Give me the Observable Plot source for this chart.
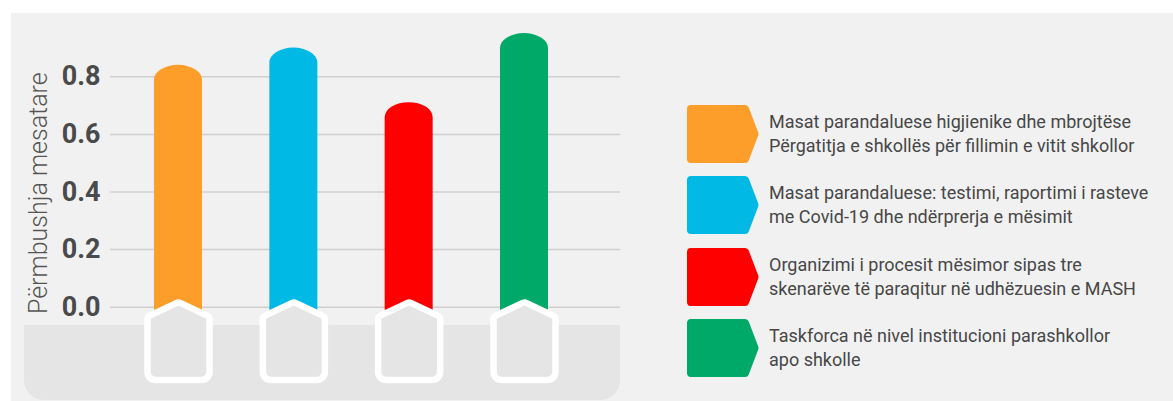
<!DOCTYPE html>
<html>
<head>
<meta charset="utf-8">
<script src="https://cdn.jsdelivr.net/npm/d3@7"></script>
<script src="https://cdn.jsdelivr.net/npm/@observablehq/plot@0.6"></script>
<style>
  html, body { margin: 0; padding: 0; background: #ffffff; }
  #wrap { position: relative; width: 1173px; height: 401px; overflow: hidden; font-family: Roboto, "Noto Sans", sans-serif; }
  #panel { position: absolute; left: 11px; top: 13px; right: 0; bottom: 0; background: #f1f1f1; }
  #band { position: absolute; left: 24px; top: 325px; width: 596px; height: 75px; background: #e5e5e5; border-radius: 0 0 20px 20px; }
  #chart { position: absolute; left: 0; top: 0; }
  #legend { position: absolute; left: 687px; top: 105px; }
  .row { display: flex; align-items: center; height: 58px; margin-bottom: 13.3px; }
  .row svg { flex: none; }
  .row .lbl { margin-left: 10px; font-size: 18px; line-height: 24px; color: #474747; white-space: pre-line; }
</style>
</head>
<body>
<div id="wrap">
  <div id="panel"></div>
  <div id="band"></div>
  <div id="chart"></div>
  <div id="legend"></div>
</div>
<script>
const categories = [
  "Masat parandaluese higjienike dhe mbrojtëse\nPërgatitja e shkollës për fillimin e vitit shkollor",
  "Masat parandaluese: testimi, raportimi i rasteve\nme Covid-19 dhe ndërprerja e mësimit",
  "Organizimi i procesit mësimor sipas tre\nskenarëve të paraqitur në udhëzuesin e MASH",
  "Taskforca në nivel institucioni parashkollor\napo shkolle"
];
const values = [0.84, 0.90, 0.71, 0.95];
const colors = ["#fd9e2a", "#00b9e4", "#ff0000", "#00a968"];
const yTicks = [0, 0.2, 0.4, 0.6, 0.8];
const yLabel = "Përmbushja mesatare";

const rows = categories.map((c, i) => ({category: c, value: values[i], base: 0}));

// house-shaped base marker
const house = {
  draw(ctx) {
    ctx.moveTo(0, 72.8);
    ctx.arcTo(-31, 72.8, -31, 9.5, 8);
    ctx.arcTo(-31, 9.5, 0, -5.2, 4);
    ctx.arcTo(0, -5.2, 31, 9.5, 4);
    ctx.arcTo(31, 9.5, 31, 72.8, 4);
    ctx.arcTo(31, 72.8, 0, 72.8, 8);
    ctx.closePath();
  }
};

const pi = 1 - 48 / 115.333;

const chart = Plot.plot({
  width: 640,
  height: 401,
  marginLeft: 110,
  marginRight: 20,
  marginTop: 18.7,
  marginBottom: 94.3,
  style: {background: "transparent", overflow: "visible"},
  x: {domain: categories, range: [120.33, 581.67], paddingInner: pi, paddingOuter: pi / 2, round: false, axis: null},
  y: {domain: [0, 1], axis: null},
  color: {domain: categories, range: colors},
  marks: [
    Plot.gridY(yTicks, {stroke: "#cfcfcf", strokeOpacity: 1, strokeWidth: 1.5}),
    Plot.axisY(yTicks, {
      tickSize: 0, tickPadding: 10, tickFormat: d3.format(".1f"),
      fontSize: 27, fontWeight: "bold", fill: "#4a4a4a", label: null,
      fontFamily: "Roboto, sans-serif"
    }),
    Plot.text([yLabel], {
      frameAnchor: "left", rotate: -90, dx: -72, dy: 30,
      fontSize: 25, fontWeight: 300, fill: "#555555", textAnchor: "middle",
      fontFamily: "Roboto, sans-serif"
    }),
    // bar with rounded top; its rounded bottom tucks under the house marker
    Plot.barY(rows, {x: "category", y1: d => d.base - 0.06, y2: "value", fill: "category", rx: 24, ry: 15}),
    Plot.dot(rows, {x: "category", y: "base", symbol: house, r: 10, fill: "#e5e5e5", stroke: "#ffffff", strokeWidth: 6.5, strokeLinejoin: "round"})
  ]
});
document.getElementById("chart").appendChild(chart);

const legend = document.getElementById("legend");
categories.forEach((c, i) => {
  const row = document.createElement("div");
  row.className = "row";
  row.innerHTML = `<svg width="72" height="58" viewBox="0 0 72 58"><path d="M4,4 L58,4 L67.5,29 L58,54 L4,54 Z" fill="${colors[i]}" stroke="${colors[i]}" stroke-width="8" stroke-linejoin="round"/></svg>`;
  const lbl = document.createElement("div");
  lbl.className = "lbl";
  lbl.textContent = c;
  row.appendChild(lbl);
  legend.appendChild(row);
});
</script>
</body>
</html>
